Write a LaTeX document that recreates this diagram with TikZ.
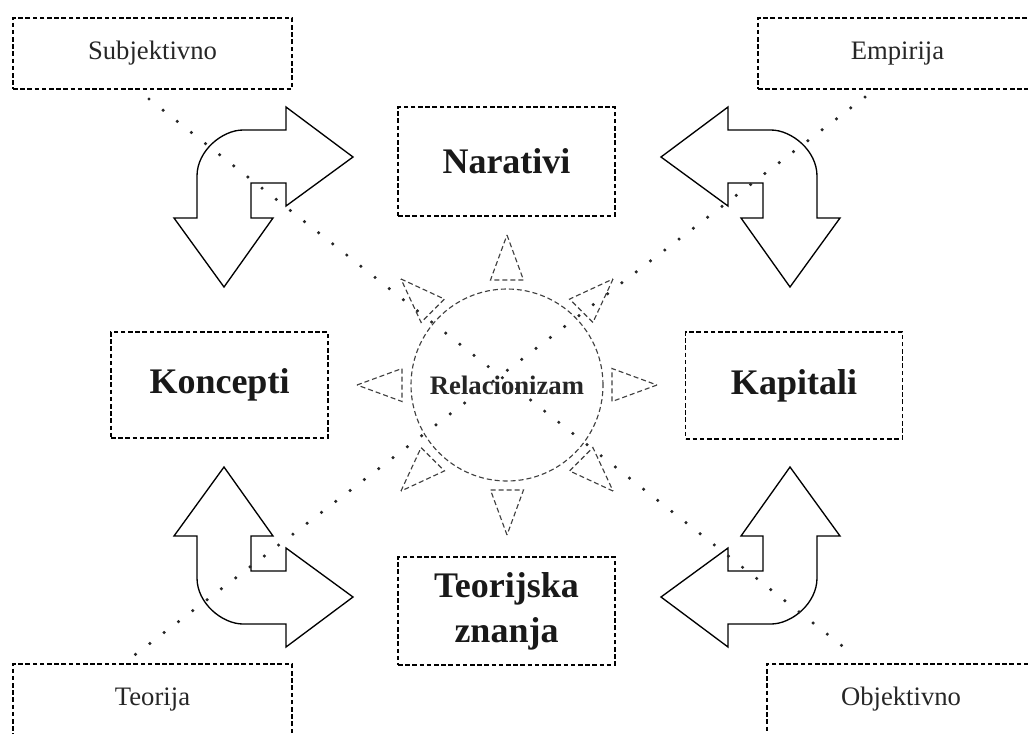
\documentclass[tikz,border=0pt]{standalone}
\usepackage{fontspec}
\setmainfont{Liberation Serif}
\newcommand\bentarrowpath{(353,157) -- (286,206) -- (286,183) -- (251,183) -- (251,218) -- (273,218) -- (224,287) -- (174,218) -- (197,218) -- (197,176) .. controls (197,150.6) and (222.4,130) .. (243,130) -- (286,130) -- (286,107) -- cycle}
\tikzset{
  lbox/.style={draw=black, line width=0.8pt, dash pattern=on 3.4pt off 2pt, inner sep=0pt, outer sep=0pt,
    minimum width=209.25pt, minimum height=53.25pt, font=\fontsize{20}{24}\selectfont, text=black!85},
  cbox/.style={draw=black, line width=0.8pt, dash pattern=on 3.4pt off 2pt, inner sep=0pt, outer sep=0pt,
    minimum width=162.75pt, align=center, font=\fontsize{27}{33.75}\selectfont\bfseries, text=black!90},
  bentarrow/.style={draw=black, line width=1pt, fill=white, line join=miter},
  dotline/.style={line width=2.6pt, line cap=round, dash pattern=on 0pt off 13.5pt, black!85},
  sunline/.style={draw=black!75, line width=0.85pt, dash pattern=on 3.75pt off 2.25pt},
}
\begin{document}
\begin{tikzpicture}[x=0.75pt, y=-0.75pt]
\useasboundingbox (0,0) rectangle (1028,733);
\clip (0,0) rectangle (1028,733);
% corner labels
\node[lbox] (sub) at (152.5,53.5) {Subjektivno};
\node[lbox] (emp) at (897.5,53.5) {Empirija};
\node[lbox] (teo) at (152.5,699.5) {Teorija};
\node[lbox, minimum width=201pt] (obj) at (901,699.5) {Objektivno};
% central boxes
\node[cbox, minimum height=81.75pt] (nar) at (506.5,161.5) {Narativi};
\node[cbox, minimum height=79.5pt] (kon) at (219.5,385) {Koncepti};
\node[cbox, minimum height=80.25pt] (kap) at (794,385.5) {Kapitali};
\node[cbox, minimum height=81pt] (tz) at (506.5,611) {Teorijska\\znanja};
% bent arrows
\draw[bentarrow] \bentarrowpath;
\begin{scope}[shift={(1014,0)}, xscale=-1]
  \draw[bentarrow] \bentarrowpath;
\end{scope}
\begin{scope}[rotate around={180:(507,377)}]
  \draw[bentarrow] \bentarrowpath;
\end{scope}
\begin{scope}[shift={(0,754)}, yscale=-1]
  \draw[bentarrow] \bentarrowpath;
\end{scope}
% sun
\node[sunline, circle, minimum size=144pt, inner sep=0pt, font=\fontsize{20}{24}\selectfont\bfseries, text=black!85] (rel) at (507,385) {Relacionizam};
\foreach \a in {0,45,...,315}{
  \begin{scope}[shift={(rel.center)}, rotate=\a]
    \draw[sunline] (150,0) -- (105,16.5) -- (105,-16.5) -- cycle;
  \end{scope}
}
% dotted diagonals
\coordinate (d1s) at (149,99);
\coordinate (d1e) at (855,656);
\coordinate (d2s) at (865,97);
\coordinate (d2e) at (123,664);
\draw[dotline] (d1s) -- (d1e);
\draw[dotline] (d2s) -- (d2e);
\end{tikzpicture}
\end{document}
